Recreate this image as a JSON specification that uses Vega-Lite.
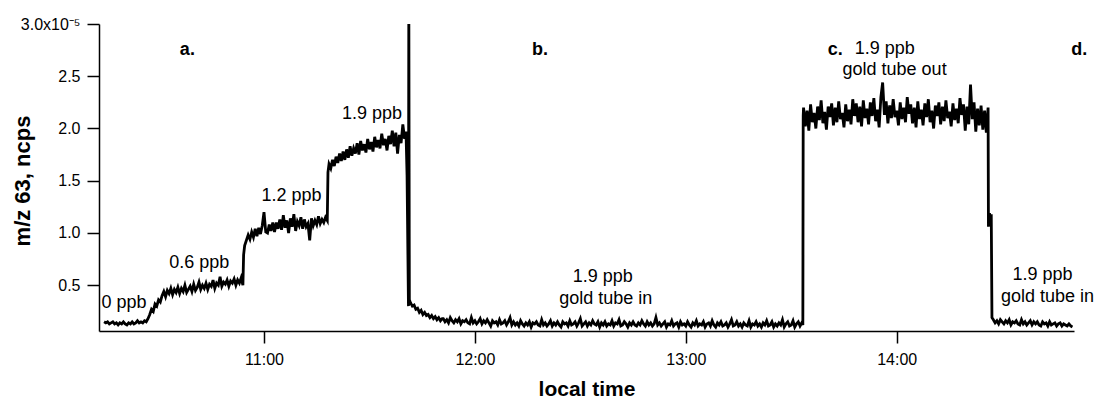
{
  "$schema": "https://vega.github.io/schema/vega-lite/v6.json",
  "width": 975,
  "height": 307,
  "autosize": {"type": "none"},
  "padding": {"left": 99, "top": 24, "right": 28, "bottom": 68},
  "config": {
    "view": {"stroke": null},
    "font": "Liberation Sans",
    "axis": {
      "grid": false,
      "domainColor": "black",
      "tickColor": "black",
      "domainWidth": 1.5,
      "tickWidth": 1.5,
      "tickSize": 12,
      "labelColor": "black",
      "titleColor": "black",
      "labelFont": "Liberation Sans",
      "titleFont": "Liberation Sans",
      "labelFontSize": 16,
      "titleFontSize": 21,
      "titleFontWeight": "bold"
    }
  },
  "datasets": {
    "series": [
      {"t":614.5,"v":0.15},{"t":615,"v":0.14},{"t":615.5,"v":0.15},{"t":616,"v":0.13},{"t":616.5,"v":0.14},{"t":617,"v":0.15},{"t":617.5,"v":0.13},{"t":618,"v":0.14},{"t":618.5,"v":0.12},{"t":619,"v":0.14},{"t":619.5,"v":0.13},{"t":620,"v":0.15},{"t":620.5,"v":0.13},{"t":621,"v":0.12},{"t":621.5,"v":0.14},{"t":622,"v":0.13},{"t":622.5,"v":0.15},{"t":623,"v":0.13},{"t":623.5,"v":0.14},{"t":624,"v":0.16},{"t":624.5,"v":0.14},{"t":625,"v":0.15},{"t":625.5,"v":0.14},{"t":626,"v":0.16},{"t":626.5,"v":0.15},
      {"t":627,"v":0.18},{"t":627.5,"v":0.22},{"t":628,"v":0.27},{"t":628.5,"v":0.25},{"t":629,"v":0.32},{"t":629.5,"v":0.30},{"t":630,"v":0.36},{"t":630.5,"v":0.34},{"t":631,"v":0.40},
      {"t":631.5,"v":0.44},{"t":632,"v":0.39},{"t":632.5,"v":0.45},{"t":633,"v":0.42},{"t":633.5,"v":0.47},{"t":634,"v":0.41},{"t":634.5,"v":0.46},{"t":635,"v":0.43},{"t":635.5,"v":0.48},{"t":636,"v":0.42},{"t":636.5,"v":0.47},{"t":637,"v":0.44},{"t":637.5,"v":0.50},{"t":638,"v":0.43},{"t":638.5,"v":0.46},{"t":639,"v":0.49},{"t":639.5,"v":0.44},{"t":640,"v":0.51},{"t":640.5,"v":0.45},{"t":641,"v":0.48},{"t":641.5,"v":0.53},{"t":642,"v":0.46},{"t":642.5,"v":0.50},{"t":643,"v":0.47},{"t":643.5,"v":0.52},{"t":644,"v":0.46},{"t":644.5,"v":0.51},{"t":645,"v":0.49},{"t":645.5,"v":0.55},{"t":646,"v":0.47},{"t":646.5,"v":0.52},{"t":647,"v":0.50},{"t":647.5,"v":0.58},{"t":648,"v":0.49},{"t":648.5,"v":0.53},{"t":649,"v":0.51},{"t":649.5,"v":0.55},{"t":650,"v":0.49},{"t":650.5,"v":0.54},{"t":651,"v":0.52},{"t":651.5,"v":0.56},{"t":652,"v":0.50},{"t":652.5,"v":0.55},{"t":653,"v":0.52},{"t":653.5,"v":0.57},{"t":654,"v":0.50},
      {"t":654.2,"v":0.79},{"t":654.5,"v":0.88},{"t":655,"v":0.93},{"t":655.5,"v":0.98},{"t":656,"v":0.94},{"t":656.5,"v":1.01},{"t":657,"v":0.96},{"t":657.5,"v":1.04},{"t":658,"v":0.97},{"t":658.5,"v":1.05},{"t":659,"v":0.99},{"t":659.5,"v":1.07},{"t":660,"v":1.20},{"t":660.5,"v":1.01},{"t":661,"v":1.00},{"t":661.5,"v":1.08},{"t":662,"v":1.02},{"t":662.5,"v":1.10},{"t":663,"v":1.01},{"t":663.5,"v":1.10},{"t":664,"v":1.04},{"t":664.5,"v":1.13},{"t":665,"v":1.03},{"t":665.5,"v":1.17},{"t":666,"v":1.05},{"t":666.5,"v":1.12},{"t":667,"v":1.00},{"t":667.5,"v":1.14},{"t":668,"v":1.06},{"t":668.5,"v":1.18},{"t":669,"v":1.02},{"t":669.5,"v":1.11},{"t":670,"v":1.07},{"t":670.5,"v":1.15},{"t":671,"v":1.04},{"t":671.5,"v":1.13},{"t":672,"v":1.06},{"t":672.5,"v":1.09},{"t":673,"v":0.93},{"t":673.5,"v":1.14},{"t":674,"v":1.07},{"t":674.5,"v":1.12},{"t":675,"v":1.08},{"t":675.5,"v":1.16},{"t":676,"v":1.09},{"t":676.5,"v":1.13},{"t":677,"v":1.10},{"t":677.5,"v":1.15},{"t":678,"v":1.12},
      {"t":678.2,"v":1.58},{"t":678.5,"v":1.66},{"t":679,"v":1.62},{"t":679.5,"v":1.70},{"t":680,"v":1.64},{"t":680.5,"v":1.73},{"t":681,"v":1.67},{"t":681.5,"v":1.76},{"t":682,"v":1.69},{"t":682.5,"v":1.78},{"t":683,"v":1.70},{"t":683.5,"v":1.80},{"t":684,"v":1.72},{"t":684.5,"v":1.83},{"t":685,"v":1.74},{"t":685.5,"v":1.81},{"t":686,"v":1.76},{"t":686.5,"v":1.86},{"t":687,"v":1.75},{"t":687.5,"v":1.88},{"t":688,"v":1.79},{"t":688.5,"v":1.85},{"t":689,"v":1.77},{"t":689.5,"v":1.90},{"t":690,"v":1.80},{"t":690.5,"v":1.87},{"t":691,"v":1.78},{"t":691.5,"v":1.92},{"t":692,"v":1.82},{"t":692.5,"v":1.89},{"t":693,"v":1.81},{"t":693.5,"v":1.95},{"t":694,"v":1.84},{"t":694.5,"v":1.90},{"t":695,"v":1.79},{"t":695.5,"v":1.93},{"t":696,"v":1.85},{"t":696.5,"v":1.98},{"t":697,"v":1.83},{"t":697.5,"v":1.96},{"t":698,"v":1.76},{"t":698.5,"v":1.94},{"t":699,"v":1.86},{"t":699.5,"v":2.04},{"t":700,"v":1.90},
      {"t":700.4,"v":1.97},{"t":700.7,"v":1.55},{"t":701.1,"v":0.30},{"t":701.2,"v":3.3},{"t":701.35,"v":0.36},{"t":701.7,"v":0.33},{"t":702.2,"v":0.30},{"t":702.7,"v":0.31},{"t":703.2,"v":0.27},{"t":703.7,"v":0.28},{"t":704.2,"v":0.24},{"t":704.7,"v":0.26},{"t":705.2,"v":0.22},{"t":705.7,"v":0.24},{"t":706.2,"v":0.21},{"t":706.7,"v":0.22},{"t":707.2,"v":0.19},{"t":707.7,"v":0.21},{"t":708.2,"v":0.18},{"t":708.7,"v":0.20},{"t":709.2,"v":0.17},{"t":709.7,"v":0.19},{"t":710.2,"v":0.16},{"t":710.7,"v":0.18},
      {"t":711,"v":0.18},{"t":711.5,"v":0.15},{"t":712,"v":0.17},{"t":712.5,"v":0.14},{"t":713,"v":0.19},{"t":713.5,"v":0.16},{"t":714,"v":0.14},{"t":714.5,"v":0.17},{"t":715,"v":0.15},{"t":715.5,"v":0.18},{"t":716,"v":0.13},{"t":716.5,"v":0.16},{"t":717,"v":0.15},{"t":717.5,"v":0.17},{"t":718,"v":0.14},{"t":718.5,"v":0.13},{"t":719,"v":0.19},{"t":719.5,"v":0.14},{"t":720,"v":0.16},{"t":720.5,"v":0.13},{"t":721,"v":0.15},{"t":721.5,"v":0.18},{"t":722,"v":0.13},{"t":722.5,"v":0.16},{"t":723,"v":0.14},{"t":723.5,"v":0.17},{"t":724,"v":0.14},{"t":724.5,"v":0.11},{"t":725,"v":0.16},{"t":725.5,"v":0.14},{"t":726,"v":0.15},{"t":726.5,"v":0.12},{"t":727,"v":0.17},{"t":727.5,"v":0.13},{"t":728,"v":0.14},{"t":728.5,"v":0.16},{"t":729,"v":0.12},{"t":729.5,"v":0.15},{"t":730,"v":0.19},{"t":730.5,"v":0.12},
      {"t":731,"v":0.15},{"t":731.5,"v":0.12},{"t":732,"v":0.14},{"t":732.5,"v":0.11},{"t":733,"v":0.16},{"t":733.5,"v":0.13},{"t":734,"v":0.11},{"t":734.5,"v":0.14},{"t":735,"v":0.12},{"t":735.5,"v":0.15},{"t":736,"v":0.10},{"t":736.5,"v":0.14},{"t":737,"v":0.13},{"t":737.5,"v":0.15},{"t":738,"v":0.12},{"t":738.5,"v":0.11},{"t":739,"v":0.17},{"t":739.5,"v":0.12},{"t":740,"v":0.14},{"t":740.5,"v":0.11},{"t":741,"v":0.13},{"t":741.5,"v":0.16},{"t":742,"v":0.11},{"t":742.5,"v":0.14},{"t":743,"v":0.12},{"t":743.5,"v":0.15},{"t":744,"v":0.12},{"t":744.5,"v":0.10},{"t":745,"v":0.15},{"t":745.5,"v":0.13},{"t":746,"v":0.14},{"t":746.5,"v":0.11},{"t":747,"v":0.16},{"t":747.5,"v":0.12},{"t":748,"v":0.13},{"t":748.5,"v":0.15},{"t":749,"v":0.11},{"t":749.5,"v":0.14},{"t":750,"v":0.18},{"t":750.5,"v":0.11},
      {"t":751,"v":0.13},{"t":751.5,"v":0.15},{"t":752,"v":0.11},{"t":752.5,"v":0.14},{"t":753,"v":0.12},{"t":753.5,"v":0.16},{"t":754,"v":0.13},{"t":754.5,"v":0.12},{"t":755,"v":0.15},{"t":755.5,"v":0.10},{"t":756,"v":0.14},{"t":756.5,"v":0.12},{"t":757,"v":0.15},{"t":757.5,"v":0.11},{"t":758,"v":0.13},{"t":758.5,"v":0.12},{"t":759,"v":0.16},{"t":759.5,"v":0.11},{"t":760,"v":0.14},{"t":760.5,"v":0.13},{"t":761,"v":0.17},{"t":761.5,"v":0.11},{"t":762,"v":0.12},{"t":762.5,"v":0.15},{"t":763,"v":0.13},{"t":763.5,"v":0.10},{"t":764,"v":0.14},{"t":764.5,"v":0.12},{"t":765,"v":0.15},{"t":765.5,"v":0.12},{"t":766,"v":0.11},{"t":766.5,"v":0.14},{"t":767,"v":0.12},{"t":767.5,"v":0.16},{"t":768,"v":0.13},{"t":768.5,"v":0.11},{"t":769,"v":0.15},{"t":769.5,"v":0.12},{"t":770,"v":0.14},{"t":770.5,"v":0.11},
      {"t":771,"v":0.13},{"t":771.5,"v":0.19},{"t":772,"v":0.12},{"t":772.5,"v":0.14},{"t":773,"v":0.11},{"t":773.5,"v":0.13},{"t":774,"v":0.15},{"t":774.5,"v":0.10},{"t":775,"v":0.13},{"t":775.5,"v":0.12},{"t":776,"v":0.16},{"t":776.5,"v":0.11},{"t":777,"v":0.13},{"t":777.5,"v":0.14},{"t":778,"v":0.10},{"t":778.5,"v":0.15},{"t":779,"v":0.12},{"t":779.5,"v":0.13},{"t":780,"v":0.11},{"t":780.5,"v":0.15},{"t":781,"v":0.12},{"t":781.5,"v":0.10},{"t":782,"v":0.14},{"t":782.5,"v":0.12},{"t":783,"v":0.16},{"t":783.5,"v":0.11},{"t":784,"v":0.13},{"t":784.5,"v":0.12},{"t":785,"v":0.15},{"t":785.5,"v":0.10},{"t":786,"v":0.13},{"t":786.5,"v":0.14},{"t":787,"v":0.11},{"t":787.5,"v":0.16},{"t":788,"v":0.12},{"t":788.5,"v":0.10},{"t":789,"v":0.14},{"t":789.5,"v":0.12},{"t":790,"v":0.15},{"t":790.5,"v":0.11},
      {"t":791,"v":0.12},{"t":791.5,"v":0.14},{"t":792,"v":0.10},{"t":792.5,"v":0.13},{"t":793,"v":0.17},{"t":793.5,"v":0.11},{"t":794,"v":0.12},{"t":794.5,"v":0.15},{"t":795,"v":0.11},{"t":795.5,"v":0.13},{"t":796,"v":0.10},{"t":796.5,"v":0.14},{"t":797,"v":0.12},{"t":797.5,"v":0.11},{"t":798,"v":0.16},{"t":798.5,"v":0.10},{"t":799,"v":0.13},{"t":799.5,"v":0.12},{"t":800,"v":0.15},{"t":800.5,"v":0.11},{"t":801,"v":0.13},{"t":801.5,"v":0.10},{"t":802,"v":0.14},{"t":802.5,"v":0.12},{"t":803,"v":0.16},{"t":803.5,"v":0.11},{"t":804,"v":0.12},{"t":804.5,"v":0.15},{"t":805,"v":0.10},{"t":805.5,"v":0.13},{"t":806,"v":0.11},{"t":806.5,"v":0.14},{"t":807,"v":0.12},{"t":807.5,"v":0.17},{"t":808,"v":0.10},{"t":808.5,"v":0.13},{"t":809,"v":0.15},{"t":809.5,"v":0.11},{"t":810,"v":0.12},{"t":810.5,"v":0.16},{"t":811,"v":0.10},{"t":811.5,"v":0.13},{"t":812,"v":0.15},{"t":812.5,"v":0.11},{"t":813,"v":0.14},{"t":813.3,"v":0.12},
      {"t":813.4,"v":2.12},{"t":813.5,"v":2.20},{"t":814,"v":2.02},{"t":814.5,"v":2.17},{"t":815,"v":1.98},{"t":815.5,"v":2.23},{"t":816,"v":2.06},{"t":816.5,"v":2.15},{"t":817,"v":2.00},{"t":817.5,"v":2.21},{"t":818,"v":2.08},{"t":818.5,"v":2.27},{"t":819,"v":2.05},{"t":819.5,"v":2.16},{"t":820,"v":1.99},{"t":820.5,"v":2.21},{"t":821,"v":2.11},{"t":821.5,"v":2.24},{"t":822,"v":2.03},{"t":822.5,"v":2.20},{"t":823,"v":2.06},{"t":823.5,"v":2.26},{"t":824,"v":2.09},{"t":824.5,"v":2.15},{"t":825,"v":2.01},{"t":825.5,"v":2.23},{"t":826,"v":2.07},{"t":826.5,"v":2.18},{"t":827,"v":2.04},{"t":827.5,"v":2.28},{"t":828,"v":2.12},
      {"t":828.5,"v":2.24},{"t":829,"v":2.06},{"t":829.5,"v":2.21},{"t":830,"v":2.02},{"t":830.5,"v":2.27},{"t":831,"v":2.10},{"t":831.5,"v":2.19},{"t":832,"v":2.04},{"t":832.5,"v":2.25},{"t":833,"v":2.12},{"t":833.5,"v":2.29},{"t":834,"v":2.07},{"t":834.5,"v":2.18},{"t":835,"v":2.01},{"t":835.5,"v":2.30},{"t":836,"v":2.44},{"t":836.5,"v":2.13},{"t":837,"v":2.26},{"t":837.5,"v":2.05},{"t":838,"v":2.22},{"t":838.5,"v":2.10},{"t":839,"v":2.28},{"t":839.5,"v":2.11},{"t":840,"v":2.17},{"t":840.5,"v":2.03},{"t":841,"v":2.25},{"t":841.5,"v":2.09},{"t":842,"v":2.20},{"t":842.5,"v":2.06},{"t":843,"v":2.30},{"t":843.5,"v":2.14},
      {"t":844,"v":2.23},{"t":844.5,"v":2.05},{"t":845,"v":2.20},{"t":845.5,"v":2.01},{"t":846,"v":2.26},{"t":846.5,"v":2.09},{"t":847,"v":2.18},{"t":847.5,"v":2.03},{"t":848,"v":2.24},{"t":848.5,"v":2.11},{"t":849,"v":2.28},{"t":849.5,"v":2.06},{"t":850,"v":2.17},{"t":850.5,"v":2.00},{"t":851,"v":2.22},{"t":851.5,"v":2.12},{"t":852,"v":2.25},{"t":852.5,"v":2.04},{"t":853,"v":2.21},{"t":853.5,"v":2.07},{"t":854,"v":2.27},{"t":854.5,"v":2.10},{"t":855,"v":2.16},{"t":855.5,"v":2.02},{"t":856,"v":2.24},{"t":856.5,"v":2.08},{"t":857,"v":2.19},{"t":857.5,"v":2.05},{"t":858,"v":2.29},{"t":858.5,"v":2.13},{"t":859,"v":2.23},{"t":859.5,"v":1.98},{"t":860,"v":2.21},{"t":860.5,"v":2.04},{"t":861,"v":2.42},{"t":861.5,"v":2.09},{"t":862,"v":2.25},{"t":862.5,"v":1.97},{"t":863,"v":2.19},{"t":863.5,"v":2.03},{"t":864,"v":2.22},{"t":864.5,"v":1.99},{"t":865,"v":2.17},{"t":865.5,"v":1.96},{"t":866,"v":2.20},
      {"t":866.1,"v":1.06},{"t":866.4,"v":1.19},{"t":866.7,"v":1.10},{"t":866.9,"v":1.18},{"t":867.1,"v":0.19},
      {"t":867.5,"v":0.17},{"t":868,"v":0.14},{"t":868.5,"v":0.16},{"t":869,"v":0.13},{"t":869.5,"v":0.17},{"t":870,"v":0.15},{"t":870.5,"v":0.13},{"t":871,"v":0.16},{"t":871.5,"v":0.14},{"t":872,"v":0.17},{"t":872.5,"v":0.12},{"t":873,"v":0.15},{"t":873.5,"v":0.14},{"t":874,"v":0.16},{"t":874.5,"v":0.13},{"t":875,"v":0.12},{"t":875.5,"v":0.17},{"t":876,"v":0.13},{"t":876.5,"v":0.15},{"t":877,"v":0.12},{"t":877.5,"v":0.14},{"t":878,"v":0.16},{"t":878.5,"v":0.12},{"t":879,"v":0.15},{"t":879.5,"v":0.13},{"t":880,"v":0.15},{"t":880.5,"v":0.12},{"t":881,"v":0.11},{"t":881.5,"v":0.15},{"t":882,"v":0.13},{"t":882.5,"v":0.14},{"t":883,"v":0.11},{"t":883.5,"v":0.15},{"t":884,"v":0.12},{"t":884.5,"v":0.13},{"t":885,"v":0.14},{"t":885.5,"v":0.11},{"t":886,"v":0.13},{"t":886.5,"v":0.14},{"t":887,"v":0.11},{"t":887.5,"v":0.13},{"t":888,"v":0.12},{"t":888.5,"v":0.11},{"t":889,"v":0.13},{"t":889.5,"v":0.11},{"t":890,"v":0.10}
    ],
    "notes": [
      {"t":620.2,"v":0.279,"label":"0 ppb"},
      {"t":641.6,"v":0.662,"label":"0.6 ppb"},
      {"t":667.8,"v":1.309,"label":"1.2 ppb"},
      {"t":690.7,"v":2.088,"label":"1.9 ppb"},
      {"t":756.4,"v":0.531,"label":"1.9 ppb"},
      {"t":757.2,"v":0.321,"label":"gold tube in"},
      {"t":836.6,"v":2.715,"label":"1.9 ppb"},
      {"t":839.4,"v":2.51,"label":"gold tube out"},
      {"t":881.5,"v":0.55,"label":"1.9 ppb"},
      {"t":882.9,"v":0.343,"label":"gold tube in"}
    ],
    "letters": [
      {"t":638.2,"v":2.703,"label":"a."},
      {"t":738.5,"v":2.703,"label":"b."},
      {"t":822.5,"v":2.703,"label":"c."},
      {"t":891.9,"v":2.703,"label":"d."}
    ]
  },
  "encoding": {
    "x": {
      "field": "t",
      "type": "quantitative",
      "scale": {"domain": [613.06, 890.44], "nice": false, "zero": false},
      "axis": {
        "title": "local time",
        "values": [660, 720, 780, 840],
        "labelExpr": "(datum.value / 60) + ':00'",
        "labelPadding": 8,
        "titleBaseline": "alphabetic",
        "titleY": 64.5
      }
    },
    "y": {
      "field": "v",
      "type": "quantitative",
      "scale": {"domain": [0.062, 3.0], "nice": false, "zero": false},
      "axis": {
        "title": "m/z 63, ncps",
        "values": [0.5, 1, 1.5, 2, 2.5, 3],
        "labelExpr": "datum.value == 3 ? '3.0x10⁻⁵' : format(datum.value, '.1f')",
        "labelPadding": 7,
        "titleFontSize": 22,
        "titleAngle": -90,
        "titleAlign": "center",
        "titleBaseline": "alphabetic",
        "titleX": -69.5,
        "titleY": 156.5
      }
    }
  },
  "layer": [
    {
      "data": {"name": "series"},
      "mark": {"type": "line", "color": "black", "strokeWidth": 2.8, "clip": true}
    },
    {
      "data": {"name": "notes"},
      "mark": {"type": "text", "font": "Liberation Sans", "fontSize": 18, "align": "center", "baseline": "alphabetic", "color": "black"},
      "encoding": {"text": {"field": "label"}}
    },
    {
      "data": {"name": "letters"},
      "mark": {"type": "text", "font": "Liberation Sans", "fontSize": 18, "fontWeight": "bold", "align": "center", "baseline": "alphabetic", "color": "black"},
      "encoding": {"text": {"field": "label"}}
    }
  ]
}
